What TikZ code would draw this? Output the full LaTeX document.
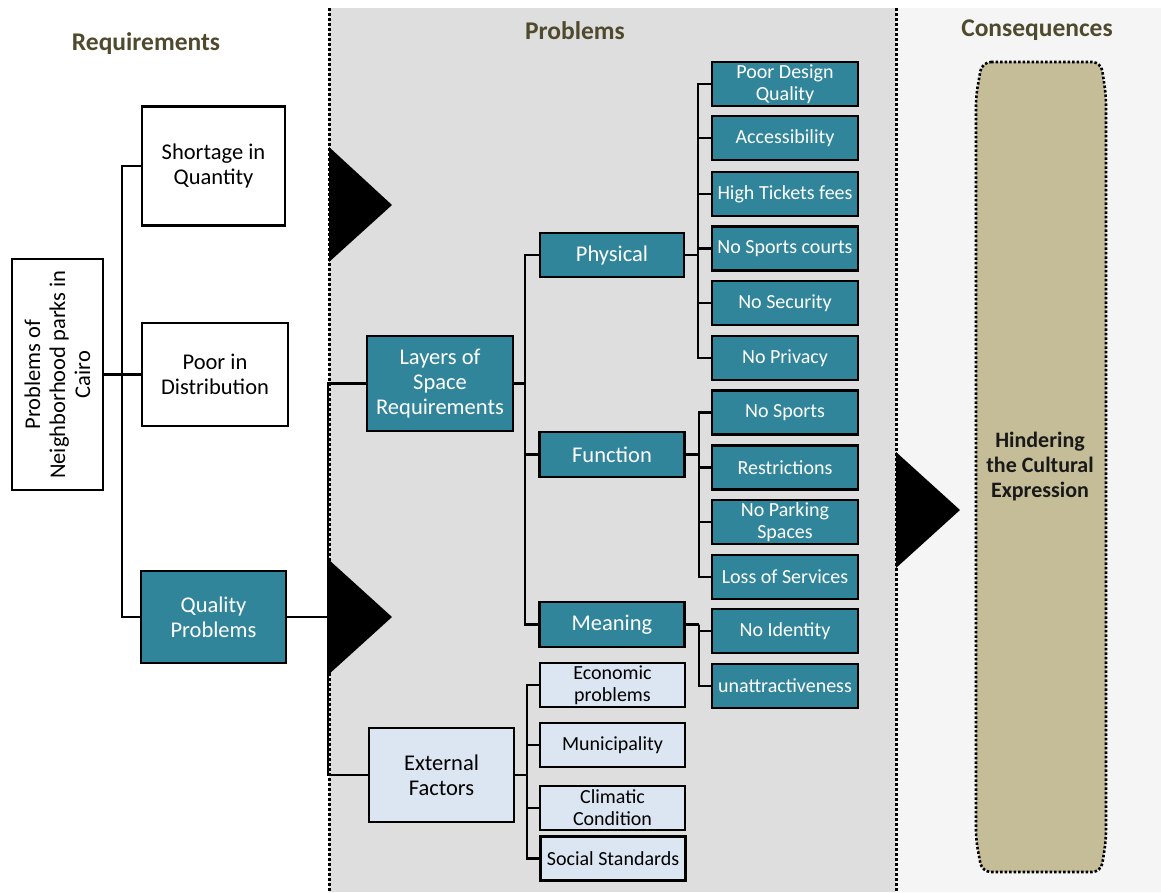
\documentclass[tikz,border=0pt]{standalone}
\usepackage{fontspec}
\setmainfont{Carlito}
\definecolor{tealc}{RGB}{49,133,155}
\definecolor{palec}{RGB}{220,230,242}
\definecolor{midgray}{RGB}{222,222,222}
\definecolor{lightgray}{RGB}{245,245,245}
\definecolor{tanc}{RGB}{196,189,151}
\definecolor{headc}{RGB}{79,74,45}
\begin{document}
\begin{tikzpicture}[x=1pt,y=-1pt,
  box/.style={draw=black, line width=2.6pt, inner sep=1pt, align=center, text=black},
  plainbox/.style={box, fill=white, font=\fontsize{22.5}{25}\selectfont},
  bigteal/.style={box, fill=tealc, text=white, font=\fontsize{22.5}{25}\selectfont},
  smallteal/.style={box, fill=tealc, text=white, minimum width=146, minimum height=44,
    font=\fontsize{20}{22}\selectfont},
  bigpale/.style={box, fill=palec, font=\fontsize{22.5}{25}\selectfont},
  smallpale/.style={box, fill=palec, minimum width=145, minimum height=44,
    font=\fontsize{20}{22}\selectfont},
  link/.style={draw=black, line width=2.7pt},
  header/.style={text=headc, font=\fontsize{25.5}{28}\selectfont\bfseries},
  sep/.style={draw=black, line width=3pt, dash pattern=on 3pt off 2pt}]
\useasboundingbox (0,0) rectangle (1161,892);
\fill[white] (0,0) rectangle (1161,892);
% column backgrounds
\fill[midgray] (329,8) rectangle (896,892);
\fill[lightgray] (896,8) rectangle (1161,892);
\draw[sep] (329,8) -- (329,892);
\draw[sep] (896,8) -- (896,892);

% headers
\node[header] (hreq) at (146,44) {Requirements};
\node[header] (hprob) at (575,31) {Problems};
\node[header] (hcons) at (1037,30) {Consequences};

% requirements column
\node[plainbox, rotate=90, minimum width=231, minimum height=91] (root) at (57.5,374.5)
  {Problems of\\Neighborhood parks in\\Cairo};
\node[plainbox, minimum width=143, minimum height=119] (shortage) at (213.5,166) {Shortage in\\Quantity};
\node[plainbox, minimum width=146, minimum height=103] (poor) at (215,374.5) {Poor in\\Distribution};
\node[bigteal, minimum width=145, minimum height=92] (quality) at (213.5,617) {Quality\\Problems};

% problems column
\node[bigteal, minimum width=146, minimum height=95] (layers) at (440,383.5) {Layers of\\Space\\Requirements};
\node[bigpale, minimum width=145, minimum height=94] (external) at (441.5,775) {External\\Factors};

\node[bigteal, minimum width=144, minimum height=44] (physical) at (612,255) {Physical};
\node[bigteal, minimum width=145, minimum height=45] (function) at (612,454.5) {Function};
\node[bigteal, minimum width=145, minimum height=45] (meaning) at (612,624.5) {Meaning};

\node[smallteal] (pdq) at (785,84) {Poor Design\\Quality};
\node[smallteal] (acc) at (785,138) {Accessibility};
\node[smallteal] (htf) at (785,194) {High Tickets fees};
\node[smallteal] (nsc) at (785,248.5) {No Sports courts};
\node[smallteal] (nse) at (785,303) {No Security};
\node[smallteal] (npr) at (785,358) {No Privacy};

\node[smallteal] (nsp) at (785,412.5) {No Sports};
\node[smallteal] (res) at (785,467.5) {Restrictions};
\node[smallteal] (npk) at (785,522) {No Parking\\Spaces};
\node[smallteal] (los) at (785,577) {Loss of Services};

\node[smallteal] (nid) at (785,631) {No Identity};
\node[smallteal] (una) at (785,686) {unattractiveness};

\node[smallpale] (eco) at (612.5,685) {Economic\\problems};
\node[smallpale] (mun) at (612.5,745) {Municipality};
\node[smallpale] (cli) at (612.5,808) {Climatic\\Condition};
\node[smallpale] (soc) at (613,858.5) {Social Standards};

% consequences column: tall tan panel with softly snipped corners
\fill[tanc, rounded corners=9pt] (982,62) -- (1101,62) -- (1106,96) -- (1106,840) -- (1101,872)
  -- (982,872) -- (976,840) -- (976,96) -- cycle;
\draw[line width=2.6pt, dash pattern=on 2.5pt off 2pt, rounded corners=9pt]
  (982,62) -- (1101,62) -- (1106,96) -- (1106,840) -- (1101,872)
  -- (982,872) -- (976,840) -- (976,96) -- cycle;
\node[text=black!90, align=center, font=\fontsize{22}{25}\selectfont\bfseries] (hinder) at (1040,467)
  {Hindering\\the Cultural\\Expression};

% junction points of the tree
\coordinate (j1) at (122,374.5);
\coordinate (j2) at (328,617);
\coordinate (j3) at (525,383.5);
\coordinate (j4) at (698,255);
\coordinate (j5) at (699,454.5);
\coordinate (j6) at (699,624.5);
\coordinate (j7) at (527,775);

% connectors
\draw[link] (root.south) -- (poor.west);
\draw[link] (shortage.west) -| (j1) |- (quality.west);
\draw[link] (quality.east) -- (j2);
\draw[link] (layers.west) -| (j2) |- (external.west);

\draw[link] (layers.east) -- (j3);
\draw[link] (physical.west) -| (j3) |- (meaning.west);
\draw[link] (function.west) -- (function.west -| j3);

\draw[link] (physical.east) -- (j4);
\draw[link] (pdq.west) -| (j4) |- (npr.west);
\foreach \n in {acc,htf,nsc,nse} \draw[link] (\n.west) -- (\n.west -| j4);

\draw[link] (function.east) -- (j5);
\draw[link] (nsp.west) -| (j5) |- (los.west);
\foreach \n in {res,npk} \draw[link] (\n.west) -- (\n.west -| j5);

\draw[link] (meaning.east) -- (j6);
\draw[link] (nid.west) -| (j6) |- (una.west);

\draw[link] (external.east) -- (j7);
\draw[link] (eco.west) -| (j7) |- (soc.west);
\foreach \n in {mun,cli} \draw[link] (\n.west) -- (\n.west -| j7);

% flow arrows between the columns
\fill[black] (329,147) -- (392,205) -- (329,262) -- cycle;
\fill[black] (328,559) -- (392,617) -- (328,675) -- cycle;
\fill[black] (896,452) -- (960,510) -- (896,568) -- cycle;
\end{tikzpicture}
\end{document}
